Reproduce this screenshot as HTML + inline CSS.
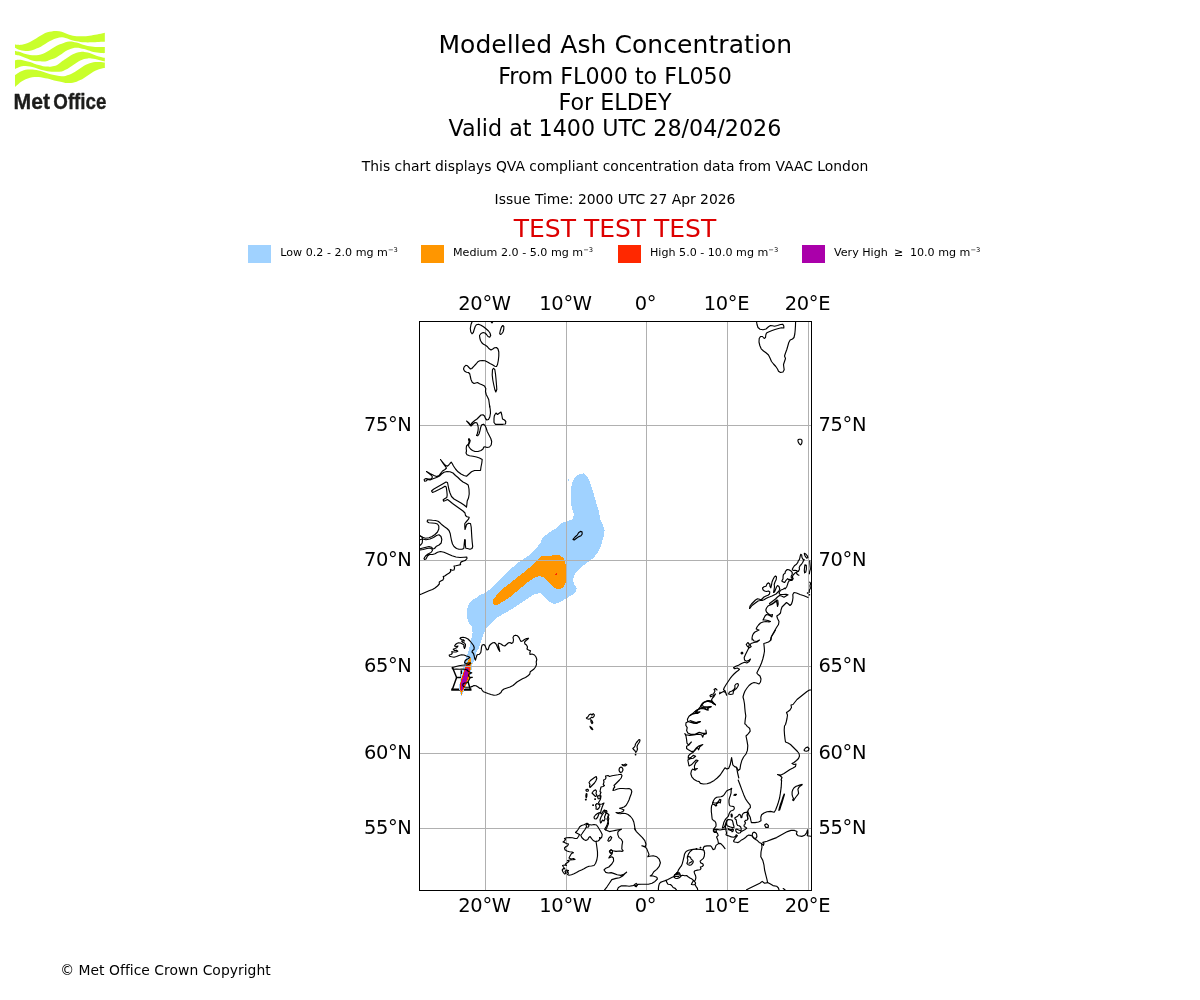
<!DOCTYPE html>
<html lang="en"><head><meta charset="utf-8"><title>Modelled Ash Concentration</title>
<style>
html,body{margin:0;padding:0;background:#fff}
body{width:1200px;height:1000px;overflow:hidden;font-family:"DejaVu Sans","Liberation Sans",sans-serif}
svg{display:block}
text{font-family:"DejaVu Sans","Liberation Sans",sans-serif;fill:#000}
.t18{font-size:25px} .t16{font-size:22.22px} .t10{font-size:13.89px} .t8{font-size:11.11px} .t14{font-size:19.44px}
.sup{font-size:6.7px}
.grid line{stroke:#b0b0b0;stroke-width:1}
.coast path{fill:none;stroke:#000;stroke-width:1.15;stroke-linejoin:round;stroke-linecap:round}
</style></head><body>
<svg width="1200" height="1000" viewBox="0 0 1200 1000">
<rect width="1200" height="1000" fill="#fff"/>
<g id="logo"><g fill="#c9ff2b"><path d="M14.98,44.44C15.52,44.51 17.05,44.82 18.20,44.87C19.36,44.93 20.68,44.93 21.93,44.75C23.17,44.57 24.30,44.28 25.65,43.82C26.99,43.35 28.54,42.68 29.99,41.96C31.44,41.23 32.89,40.36 34.33,39.48C35.78,38.60 37.23,37.56 38.67,36.68C40.12,35.81 41.57,34.93 43.02,34.20C44.46,33.48 45.91,32.81 47.36,32.34C48.81,31.88 50.15,31.62 51.70,31.41C53.25,31.21 55.00,31.05 56.67,31.10C58.33,31.15 60.26,31.36 61.72,31.72C63.19,32.08 64.20,32.78 65.44,33.27C66.68,33.77 67.93,34.29 69.17,34.70C70.41,35.11 71.65,35.50 72.89,35.75C74.13,36.01 75.37,36.15 76.61,36.25C77.85,36.35 79.09,36.37 80.33,36.37C81.57,36.37 82.81,36.32 84.05,36.25C85.30,36.18 86.54,36.07 87.78,35.94C89.02,35.81 90.26,35.63 91.50,35.44C92.74,35.26 93.98,35.05 95.22,34.82C96.46,34.60 97.70,34.34 98.94,34.08C100.18,33.82 101.68,33.51 102.67,33.27C103.65,33.04 104.47,32.76 104.84,32.65L104.84,41.65C104.47,41.67 103.65,41.72 102.67,41.77C101.68,41.82 100.18,41.90 98.94,41.96C97.70,42.02 96.46,42.09 95.22,42.14C93.98,42.20 92.74,42.23 91.50,42.27C90.26,42.31 89.02,42.39 87.78,42.39C86.54,42.39 85.30,42.34 84.05,42.27C82.81,42.20 81.57,42.11 80.33,41.96C79.09,41.80 77.85,41.60 76.61,41.34C75.37,41.08 74.13,40.77 72.89,40.41C71.65,40.05 70.41,39.58 69.17,39.17C67.93,38.75 66.68,38.24 65.44,37.93C64.20,37.62 63.19,37.25 61.72,37.31C60.26,37.36 58.33,37.76 56.67,38.24C55.00,38.71 53.25,39.46 51.70,40.16C50.15,40.86 48.81,41.61 47.36,42.45C45.91,43.30 44.46,44.35 43.02,45.25C41.57,46.15 40.12,47.16 38.67,47.85C37.23,48.54 35.78,48.94 34.33,49.40C32.89,49.87 31.44,50.38 29.99,50.64C28.54,50.90 26.99,50.98 25.65,50.95C24.30,50.92 23.17,50.72 21.93,50.46C20.68,50.20 19.36,49.84 18.20,49.40C17.05,48.97 15.52,48.11 14.98,47.85Z"/><path d="M14.98,50.64C15.52,50.80 17.05,51.21 18.20,51.57C19.36,51.94 20.68,52.40 21.93,52.81C23.17,53.23 24.30,53.69 25.65,54.05C26.99,54.42 28.54,54.78 29.99,54.99C31.44,55.19 32.89,55.30 34.33,55.30C35.78,55.30 37.23,55.24 38.67,54.99C40.12,54.73 41.57,54.31 43.02,53.74C44.46,53.18 45.91,52.40 47.36,51.57C48.81,50.75 50.15,49.76 51.70,48.78C53.25,47.80 55.00,46.51 56.67,45.68C58.33,44.85 60.26,44.39 61.72,43.82C63.19,43.25 64.20,42.65 65.44,42.27C66.68,41.89 67.93,41.63 69.17,41.52C70.41,41.42 71.65,41.47 72.89,41.65C74.13,41.82 75.37,42.22 76.61,42.58C77.85,42.94 79.09,43.41 80.33,43.82C81.57,44.23 82.81,44.70 84.05,45.06C85.30,45.42 86.54,45.73 87.78,45.99C89.02,46.25 90.26,46.46 91.50,46.61C92.74,46.77 93.98,46.84 95.22,46.92C96.46,47.00 97.70,47.08 98.94,47.11C100.18,47.14 101.68,47.11 102.67,47.11C103.65,47.11 104.47,47.11 104.84,47.11L104.84,53.12C104.47,53.12 103.65,53.18 102.67,53.12C101.68,53.07 100.18,52.95 98.94,52.81C97.70,52.68 96.46,52.55 95.22,52.32C93.98,52.09 92.74,51.78 91.50,51.45C90.26,51.12 89.02,50.73 87.78,50.33C86.54,49.94 85.30,49.45 84.05,49.09C82.81,48.73 81.57,48.37 80.33,48.16C79.09,47.95 77.85,47.85 76.61,47.85C75.37,47.85 74.13,47.90 72.89,48.16C71.65,48.42 70.41,48.89 69.17,49.40C67.93,49.92 66.68,50.49 65.44,51.26C64.20,52.04 63.19,53.07 61.72,54.05C60.26,55.04 58.33,56.28 56.67,57.16C55.00,58.04 53.25,58.71 51.70,59.33C50.15,59.95 48.81,60.52 47.36,60.88C45.91,61.24 44.46,61.42 43.02,61.50C41.57,61.58 40.12,61.48 38.67,61.37C37.23,61.27 35.78,61.17 34.33,60.88C32.89,60.59 31.44,60.10 29.99,59.64C28.54,59.17 26.99,58.60 25.65,58.09C24.30,57.57 23.17,57.00 21.93,56.54C20.68,56.07 19.36,55.61 18.20,55.30C17.05,54.99 15.52,54.78 14.98,54.67Z"/><path d="M14.98,60.26C15.52,60.18 17.05,59.81 18.20,59.76C19.36,59.71 20.68,59.76 21.93,59.95C23.17,60.13 24.30,60.52 25.65,60.88C26.99,61.24 28.54,61.65 29.99,62.12C31.44,62.58 32.89,63.17 34.33,63.67C35.78,64.17 37.23,64.68 38.67,65.10C40.12,65.51 41.57,65.90 43.02,66.15C44.46,66.40 45.91,66.53 47.36,66.59C48.81,66.64 50.15,66.69 51.70,66.46C53.25,66.23 55.00,66.05 56.67,65.22C58.33,64.39 60.26,62.53 61.72,61.50C63.19,60.46 64.20,59.84 65.44,59.02C66.68,58.19 67.93,57.31 69.17,56.54C70.41,55.76 71.65,54.99 72.89,54.36C74.13,53.74 75.37,53.20 76.61,52.81C77.85,52.43 79.09,52.22 80.33,52.07C81.57,51.91 82.81,51.81 84.05,51.88C85.30,51.96 86.54,52.19 87.78,52.50C89.02,52.81 90.26,53.28 91.50,53.74C92.74,54.21 93.98,54.83 95.22,55.30C96.46,55.76 97.70,56.17 98.94,56.54C100.18,56.90 101.68,57.26 102.67,57.47C103.65,57.67 104.47,57.72 104.84,57.78L104.84,61.50C104.47,61.40 103.65,61.14 102.67,60.88C101.68,60.62 100.18,60.26 98.94,59.95C97.70,59.64 96.46,59.26 95.22,59.02C93.98,58.78 92.74,58.62 91.50,58.52C90.26,58.42 89.02,58.31 87.78,58.40C86.54,58.48 85.30,58.66 84.05,59.02C82.81,59.38 81.57,59.95 80.33,60.57C79.09,61.19 77.85,61.96 76.61,62.74C75.37,63.51 74.13,64.39 72.89,65.22C71.65,66.05 70.41,66.93 69.17,67.70C67.93,68.48 66.68,69.25 65.44,69.87C64.20,70.49 63.19,71.11 61.72,71.42C60.26,71.73 58.33,71.68 56.67,71.73C55.00,71.79 53.25,71.81 51.70,71.73C50.15,71.66 48.81,71.56 47.36,71.30C45.91,71.04 44.46,70.58 43.02,70.18C41.57,69.79 40.12,69.38 38.67,68.94C37.23,68.51 35.78,67.99 34.33,67.58C32.89,67.16 31.44,66.73 29.99,66.46C28.54,66.19 26.99,65.99 25.65,65.97C24.30,65.94 23.17,66.10 21.93,66.34C20.68,66.58 19.36,66.96 18.20,67.39C17.05,67.83 15.52,68.68 14.98,68.94Z"/><path d="M14.98,75.15C15.52,74.78 17.05,73.65 18.20,72.98C19.36,72.30 20.68,71.63 21.93,71.11C23.17,70.60 24.30,70.15 25.65,69.87C26.99,69.59 28.54,69.47 29.99,69.44C31.44,69.41 32.89,69.51 34.33,69.69C35.78,69.86 37.23,70.15 38.67,70.49C40.12,70.83 41.57,71.29 43.02,71.73C44.46,72.18 45.91,72.72 47.36,73.16C48.81,73.61 50.15,74.02 51.70,74.40C53.25,74.78 55.00,75.15 56.67,75.46C58.33,75.77 60.26,76.19 61.72,76.26C63.19,76.34 64.20,76.13 65.44,75.89C66.68,75.65 67.93,75.32 69.17,74.84C70.41,74.35 71.65,73.65 72.89,72.98C74.13,72.30 75.37,71.58 76.61,70.80C77.85,70.03 79.09,69.15 80.33,68.32C81.57,67.50 82.81,66.56 84.05,65.84C85.30,65.12 86.54,64.50 87.78,63.98C89.02,63.46 90.26,63.05 91.50,62.74C92.74,62.43 93.98,62.24 95.22,62.12C96.46,62.00 97.70,61.97 98.94,62.00C100.18,62.02 101.68,62.14 102.67,62.24C103.65,62.35 104.47,62.55 104.84,62.62L104.84,68.01C104.47,68.06 103.65,68.12 102.67,68.32C101.68,68.53 100.18,68.84 98.94,69.25C97.70,69.67 96.46,70.18 95.22,70.80C93.98,71.42 92.74,72.20 91.50,72.98C90.26,73.75 89.02,74.63 87.78,75.46C86.54,76.28 85.30,77.16 84.05,77.94C82.81,78.71 81.57,79.49 80.33,80.11C79.09,80.73 77.85,81.23 76.61,81.66C75.37,82.09 74.13,82.48 72.89,82.71C71.65,82.95 70.41,83.06 69.17,83.09C67.93,83.12 66.68,83.09 65.44,82.90C64.20,82.71 63.19,82.28 61.72,81.97C60.26,81.66 58.33,81.40 56.67,81.04C55.00,80.68 53.25,80.21 51.70,79.80C50.15,79.39 48.81,78.92 47.36,78.56C45.91,78.20 44.46,77.89 43.02,77.63C41.57,77.37 40.12,77.11 38.67,77.01C37.23,76.90 35.78,76.90 34.33,77.01C32.89,77.11 31.44,77.27 29.99,77.63C28.54,77.99 26.99,78.56 25.65,79.18C24.30,79.80 23.17,80.52 21.93,81.35C20.68,82.18 19.36,83.21 18.20,84.14C17.05,85.07 15.52,86.47 14.98,86.93Z"/></g><text x="13.5" y="109.4" transform="translate(13.5 0) scale(1.0 1) translate(-13.5 0)" style="font-family:'Liberation Sans',sans-serif;font-weight:bold;font-size:21.2px;fill:#1d1d1b;stroke:#1d1d1b;stroke-width:0.35px;stroke-linejoin:round">Met</text><text x="53.3" y="109.4" transform="translate(53.3 0) scale(0.885 1) translate(-53.3 0)" style="font-family:'Liberation Sans',sans-serif;font-weight:bold;font-size:21.2px;fill:#1d1d1b;stroke:#1d1d1b;stroke-width:0.35px;stroke-linejoin:round">Office</text></g>
<g text-anchor="middle">
<text class="t18" x="615.3" y="53.3" letter-spacing="0.07">Modelled Ash Concentration</text>
<text class="t16" x="615" y="83.7">From FL000 to FL050</text>
<text class="t16" x="615" y="109.6">For ELDEY</text>
<text class="t16" x="615" y="136.3">Valid at 1400 UTC 28/04/2026</text>
<text class="t10" x="615" y="170.7">This chart displays QVA compliant concentration data from VAAC London</text>
<text class="t10" x="615" y="203.7">Issue Time: 2000 UTC 27 Apr 2026</text>
<text class="t18" x="615" y="236.7" style="fill:#dd0000">TEST TEST TEST</text>
</g>
<g id="legend" class="t8">
<rect x="248" y="245" width="23" height="18" fill="#a0d2ff"/>
<text x="280.3" y="256">Low 0.2 - 2.0 mg m<tspan class="sup" dy="-4">−3</tspan></text>
<rect x="421" y="245" width="23" height="18" fill="#ff9600"/>
<text x="453" y="256">Medium 2.0 - 5.0 mg m<tspan class="sup" dy="-4">−3</tspan></text>
<rect x="618" y="245" width="23" height="18" fill="#ff2800"/>
<text x="650" y="256">High 5.0 - 10.0 mg m<tspan class="sup" dy="-4">−3</tspan></text>
<rect x="802" y="245" width="23" height="18" fill="#aa00aa"/>
<text x="834" y="256">Very High<tspan dx="6.3">≥</tspan><tspan dx="6.5">10.0 mg m</tspan><tspan class="sup" dy="-4">−3</tspan></text>
</g>
<clipPath id="mapclip"><rect x="419.5" y="321.5" width="392.0" height="569.0"/></clipPath>
<g clip-path="url(#mapclip)">
<g id="volcano" fill="none" stroke="#000" stroke-width="1.45" stroke-linecap="square"><path d="M452.5,689L456.6,677.4L452.5,667.5M470.2,689L466.8,677.4L470.8,667.5M456.4,677.4H467M461.3,671V677.4"/><path d="M452.3,689.6H470.4" stroke-width="2.2"/></g>
<g id="ash" shape-rendering="crispEdges"><path fill="#a0d2ff" d="M580,474L584,473.4L587,476L589.4,481L592,488L594,495L596,502L598,508L599.4,514L600.6,520L603,525L604.6,530L604,535L602.6,540L601,546L598.6,551L595,556L592,559L588,562L584,565L579,569L575,574L573,579L574,584L576.6,588L576,592L572,595L567,598L562,601L557,603.4L554,604L550,602L546,598.6L543,595L540,593L535,594L530,597L524,601L518,605L512,609L505,613L498,617L492,622L487,627L484,633L482,639L480,645L478,651L477,650L477.2,650L476.2,653.5L475,657.5L473.5,661.5L472.2,665L471.8,669L471,673L470.2,677L469,681L467,684L465,687L463.8,691L462.5,694L461.5,695.8L460.5,693.5L459.5,690L459.2,686L460,681L461,676L462.2,671L463.2,667L464.2,663.5L465.2,660L466.5,656.5L467.8,653L468.8,650L468.8,650L470,645L471.4,639L472.6,633L472,627L469,623L467,618L466.6,612L468,606L471,601L476,598L480,595L485,593L489,590L493,586L498,581L503,576L508,571L513,567L519,562L525,558L530,554.6L534,550L538,546L541,542L542,538L546,535L550,532L555,529L559,525L564,522L569,520.6L573,519L574,514L572,508L570.6,502L570.6,495L571,488L572.6,482L575,477.4L577.4,475Z"/>
<path fill="#ff9600" d="M542,556L549,556L555,555L560,555.4L563.4,558L565.4,563L566,569L566,577L565.4,584L563,587.4L559,589.4L555,588L551,585L547,581L543,577L539,576L534,578L528,582L522,587L516,592L510,597L504,601L498,604.6L495,605.4L492.6,603L493,600L496,596L500,591.4L505,587L511,582.6L517,577.4L523,573L529,568L534,563L538,559Z"/>
<path fill="#a0d2ff" d="M568.2,479.4L569,479.4L569,480.6L568.2,480.6Z"/>
<path fill="#ff9600" d="M470,658.2L468.5,660L467,662.5L466,665L465,667.5L464,671L462.5,675L461,680L460,685L459.8,690L460.8,693L461.5,694.8L462.2,693L463.5,690L465,686.5L467,683L468.5,680L469.8,676L470.2,672L470.8,668L471,665L471.8,663.5L471,661.5L470.9,658.5Z"/>
<path fill="#ff2800" d="M466,665.2L465,667.5L464.2,671L462.8,675L461.2,680L460.2,685L460,689.5L463,690L464.5,686.5L466.5,682.5L468.2,679L469,675L469.8,671L470,667.5L469.5,665.2Z"/>
<path fill="#a800a8" d="M466.5,668L465,670L464.2,672.5L463.5,676L462,680L461,684L460.5,688L461.5,690.5L462.8,689.5L463.8,686L465.5,683L467,680L467.8,676L468.2,672.5L468.5,669.5L467.8,668Z"/>
<path fill="#ff2800" d="M555,575L557,572L557.4,575Z"/></g>
<g class="grid"><line x1="485.5" y1="321.5" x2="485.5" y2="890.5"/><line x1="566.5" y1="321.5" x2="566.5" y2="890.5"/><line x1="646.5" y1="321.5" x2="646.5" y2="890.5"/><line x1="727.5" y1="321.5" x2="727.5" y2="890.5"/><line x1="808.5" y1="321.5" x2="808.5" y2="890.5"/><line x1="419.5" y1="828.5" x2="811.5" y2="828.5"/><line x1="419.5" y1="753.5" x2="811.5" y2="753.5"/><line x1="419.5" y1="666.5" x2="811.5" y2="666.5"/><line x1="419.5" y1="560.5" x2="811.5" y2="560.5"/><line x1="419.5" y1="425.5" x2="811.5" y2="425.5"/></g>
<g class="coast"><path d="M472.2,321.5L471,324.5L470.3,328.5L470.8,332L472,333.8L473.3,332.5L474.2,329.5L475.2,326.5L476.5,324.7L478.5,324.3L481,325.2L483.5,326.8L486,328.8L488.5,331L490,333L490.7,335.5L489.7,337.2L488,336.5L486.5,334.5L485,333L483.2,332.5L481,333.5L479.5,335.5L479.8,338L480.5,340.5L481.8,342.8L483.5,344.3L485.5,345.3L487.5,346.8L489.2,348.8L491,350L492.8,349L494.5,347.8L496.5,347.5L498,349L498.8,352L498.8,356L498.3,360.5L497.5,364.5L496.5,366.5L494.8,366.2L492.5,364.8L490,363.5L487.5,362L485,360.8L482.5,360.5L479.8,360.8L477.8,361.8L476,364L474,366.2L471.8,368.5L470.5,369L469,367.5L467.5,365.8L465.8,365.3L464.2,366.8L463.5,369L464.5,371L466.5,372.2L468.5,372.5L469.8,374L470.3,376.5L471,379.5L472.2,382.2L474,383.5L475.8,383L477.5,382.5L479.5,383.8L482,384.8L484.5,386L485.8,388.5L485.5,391.5L486.2,394.5L487.5,397L488.7,399.5L489.2,403L489.7,407"/>
<path d="M499.7,333.5L500.3,330.5L501.5,327L502.8,325.5L503.8,326.5L503.8,329L503,332L501.5,334L500.3,334.5Z"/>
<path d="M492.5,369.5L493.5,368.3L494.8,369.5L495.5,374L496,379L496.5,385L496.8,389.5L495.8,392L494.8,389.5L493.8,385L492.8,380L492.2,375Z"/>
<path d="M491,321.6L492,323L492.8,321.8"/>
<path d="M489.5,405L490.2,409L490.5,413L489.8,417L488.5,419.5L486.8,420L485.5,418.5L484.5,416L483,414.8L481,415L479,417L477,419L474.8,420.5L473,422L471.5,423.5L470.5,425L469,423L466.5,421L469.5,424.5L471,426L473,424L475,422.5L476.8,422.8L477.8,425L478.3,428L478,431L477.2,434L476.5,435.5L477.8,435.8L479,434L480,430.5L480.8,427L481.8,424.8L483.5,424.2L485,425.5L486.2,428L487.2,431.5L489,435L490.8,438.5L491.7,441.5L491.2,445L489.5,447L487,447.5L485,446.8L483.8,447L483,449L481,450.5L478,451.5L475,451.5L472.5,450.5L470.5,449L469,447L468.5,445L469.5,443L470.2,440.5L469,438.5L468.5,439.5L469.2,441.5L468.5,444L466.5,446L466.2,448.5L466.5,451L466,453L467,454.8L469.5,455.8L473,456.2L476.5,457L479.5,458L482.2,459.5L481.8,463L481,467L480.5,470.5L478,470.5L474.5,470.5L471.5,471.8L469,474L466.5,476.2L464,475.5L461,474L458,471.8L455.5,469L453.5,466L452.2,463.5L451.2,462.2L450,463.5L448.8,465L447.2,466.2L445,465L440.5,459.5L443.5,464L446.5,468L445,469.5L442.5,471L440.5,473.5L439,475.5L436.5,476.5L434,475.5L432,474.5L430,473.5L426.5,471.5L431,475L432.5,477L431,479L428.5,479L426,478.5L424.2,479.5L424.5,481.2L426,481L427.5,479.5L430,480L433,478.8L436.5,477.5L439.5,476L441.5,474L444,472.2L447,471.5L450,471.8L453,473L455.5,475.5L458,477.5L460.5,480L463,482L466,483.5L468.2,485L469,489L469.2,494L468.5,498L467.2,501L466.8,505L466.5,507"/>
<path d="M495,414.5L496,413L497.5,414.5L499.5,413L501,412L501.8,415L502.5,419L504.5,420L505.8,421.5L505.5,424L503,424.3L499,424.3L495.5,424.3L494,422.5L494,418.5L494.3,416Z"/>
<path d="M466.5,507L464,505L461,503L457.5,501L454,499L451.5,496.5L450,493L448.8,489L448,485L447.5,482.5L446,482L443.5,483.5L440,485.5L436.5,487.5L433.5,489.2L431.5,491L432.5,492.5L435,491.5L438.5,489.8L442,488L445,486.2L446.2,487L446.8,491L447.2,495L446.8,497.5L445,498.5L443.2,499.8L443.5,501.2L445.5,500.5L447.5,499.5L449.5,501L452.5,503.5L456,506L459.5,508.5L463,511L465,513L465.5,515.5L467,516.8L469.2,517.2L468.5,519.2L466.5,521.5L464.8,523.5L464.8,526.5L465,529.5L465.8,527L466.5,524.5L468.5,523.2L470.5,523.5L471.2,527L471.5,532L471.8,537L472.2,542L472.7,546.5L472,548.5L470,549.2L467.5,548.5L465.8,548.2L465.3,545L465.3,540L464.7,539.5L464.2,544L463.8,548.5L462,549.2L459,549.2L456.5,548.5L454,546.5L452.5,544L451.5,540.5L450.8,537L450.2,533.5L449,530.5L447,528.5L444.5,526.8L442,524.8L440,522.8L438,521.2L435.5,520.5L432.5,520.3L429.5,520L427.5,520L427.2,521.8L429,522.8L432,523L435,523.2L437.5,524L438.8,526L438.8,529L437.5,532L435,534.5L432,536.5L429,537.8L425.5,538.2L422.5,537.2L420,536L419,535.5"/>
<path d="M419,540L422.5,539L426,539.8L430,539L433.5,537.5L436.5,535.5L439,534.8L441,536.5L441.8,539.5L441.2,543L439,545L436.5,546.2L434.5,548.5L433,549L431.5,547.2L429,546.5L425,547.5L421,548.5L419,549"/>
<path d="M419,550.2L423,549.5L427,548.5L430,548L432,549L432.5,550.5L431,552.5L428,554L425.5,556L424,558.5L424.5,559.5L426,559L427.5,556L429.5,554.5L432.5,554.5L435,553.8L437.5,552.2L440.5,551.5L444,552.2L448,554L452,555.8L456,557L460,557.5L464,557.2L466.8,557L467,558.5L465.4,560.4L463.6,561L461.2,561.9L460.3,563.4L460.6,564.6L458.2,565.2L455.8,565.8L454,566.1L454.6,567.9L454,570L452.2,570.3L450.4,569.4L450.7,571.5L449.2,573L446.8,574.5L444.7,576L443.2,576.6L443.8,578.1L442.9,579.9L440.8,581.1L439.3,582L439.3,584L437.5,586L435,588L432.5,589.5L429,590.8L425,592.5L421.5,594L419,594.9"/>
<path d="M474,685.5L476,685.8L478,687L480,688.5L481.2,688.2L482,690L483.5,691.8L485.5,692.5L488,693.5L491,694.5L494,695.2L496.5,695L499,694L501,692.5L502,690.5L504,689L507,688L510,687L513,685.5L515,683.8L517,682L519.5,680.5L522.5,678.8L525.5,677.5L528,675.8L529.8,674L530.2,671.8L532,670.5L534,669L535.5,667L536.5,664.5L536.2,662L536.8,659.5L536,657L534.5,655L532,654L530,654.5L529.8,652.5L530.5,650.8L528.5,650L527,649L527.5,647L526.5,645L525,644L524.5,642.2L526,640.5L528,639L528.5,638.2L526.5,638.5L524.5,639.5L522.5,641L521,641.5L520,639.8L519,637.5L517.5,635.8L515.5,635.2L514,635.8L513,637.5L513.5,640L513,642.5L511.5,643.5L510,642.5L508.5,642.8L506.5,644.5L504.8,646L503,645.5L501,644L499,643.2L498,644.5L498.8,647L499.5,650L499.8,651.5L498.5,649.5L497.2,646.5L496,644L494.5,642.5L492.8,642.8L491,644L489.5,645.5L488.8,647.5L488.2,649.5L487,650L486,648L485,645.5L483.8,644.5L482.2,645L481.5,647.2L481.2,650L480.8,652.5L479.5,654.2L478,654.5L477,655L476,658L475.5,660.2L474.8,659L474.2,656L473.5,653.5L472,652L472.5,650.5L474,649.5L474.2,647.5L473.5,645.5L472,643.5L470,641L468,639L465.5,637.7L463,637.2L461,637.5L460,638.5L461.5,639.5L463.5,639.8L464.5,641L463,640.8L461.5,641L462.5,642.2L464.5,643L465.5,644.5L465.3,646.5L464.5,648.5L463.8,646.5L464,645L462.5,644L460.5,643L458.5,642.8L456.8,643.5L455.5,644.5L454.5,646L456,646.5L458,646L457,647.5L455,648.5L453.2,649.2L454.5,650.5L456.5,650.2L457.8,651.2L456,652L453.5,652L451.8,651.5L452.2,653.5L451,654.5L449.2,655L449.5,656.2L451.5,656.8L454,657.2L456.5,656.5L459,655.5L461.5,654.8L464,655L466.5,656L468.8,656.8L469.8,657.5L468.5,658.5L466.5,659.5L465,661L464.5,662.8L466,663.5L468.5,663L470.5,662.8L470,664L467.5,664.8L465,665L462,665.2L459,665.8L456,666.5L453.5,667.2L452.5,667.2L452.2,668.2L453.5,669.2L456.5,669L459.5,669.2L462,669L465,669.2L467,670L468.5,671.5L470,672.2L471.8,672.8L470.5,673.5L469,673.8L468.5,675.5L469.5,677.2L472.5,677.2L470,678L469,680L468,682L466.5,683L464.5,683L463,684L462.8,685.5L463.8,686.8L466,687.2L468.5,687.2L471,686.9L473,686.1Z"/>
<path d="M573,539.4L575,537L577.4,534.8L578.6,532.8L580.4,531.4L582,531.8L582.2,534L581,535.8L579,536.6L576.8,538L574.2,540Z"/>
<path d="M756.5,321.5L757,324.5L758,327.5L760,329.2L763,329.8L766,329L768.5,326.8L770.5,325.5L772.5,325.8L774.5,326.2L777.5,325.5L780.5,324.5L782.8,324.2L783.8,326L783.8,328L781.5,327.8L778.5,328.5L775,329.5L771.5,330.8L768.5,332L766.5,333L765.8,335L765.5,337.5L764.2,338.5L762.5,336.5L760.5,336.5L759.2,338.5L759,342L759.8,345.5L761.2,348.8L763.5,351L766,352.8L768.5,355L770,358L771.5,361.5L773.5,364L775.8,366.5L777.5,369L778.5,371.2L780.5,372.5L783,372L784.2,369.8L783.8,367L783.5,364.5L784.5,361.5L785.5,358.5L784.5,356L785.5,353L786.8,349.5L787.8,346L788.8,342.5L790.2,340L792.5,339L794,337.5L794.8,334L795.2,330L795.5,325L795.6,321.5"/>
<path d="M798.2,439.6L799.4,439.2L801,439.3L801.9,440.2L802,441.8L801.6,443.6L800.6,444.8L799.4,444L798.4,442.4L797.9,440.8Z"/>
<path d="M749.5,608.5L750,606L751.5,604L753.5,602L755.5,600L757.5,598.8L759.5,599.2L761,600L762.5,598.5L764,597L766,596L768,595.2L769.5,594L769.8,592L768.5,591L766.5,591.5L764.5,591L763,589.8L762.5,588L764,586.8L766,586.2L767,584L768.5,582.8L769.8,584L770,586.5L770.8,587.8L771.5,585L772,582L773,579.5L774.2,577.2L775.5,576L776.5,577L776.2,579.5L775,582L774.2,584.5L774.5,587L774,590L773.5,592.5L774.5,592L775.5,589.5L776.5,587L777.5,585.5L779,586.5L779.8,589L779,591L777.5,592.5L776,594L774,595L772,596L770,596.8L768,597.5L766,598.5L764,599.8L762,600.5L760,600.5L758,601L756,602.5L754,604L752,605.5L750.5,607.5Z"/>
<path d="M781.8,581L783,578.9L783.1,576.2L783.5,574.4L785.1,573.2L785.4,571.4L787.2,569.5L789.3,569.9L791.1,571.1L792.3,572.6L792.1,574.4L791.2,576.2L791.3,577.7L792.3,578.7L791.4,579.8L789.9,579.3L788.7,579.8L787.7,578.6L786,580.3L784.7,582.5L783,581.9Z"/>
<path d="M792.3,569.3L793.2,567.5L794.7,565.4L796.5,564.2L797.7,562.7L798.3,560.9L799.5,559.4L800.1,556.7L800.7,554.3L801.7,554.9L801.9,557.3L802.8,559.1L804.3,559.7L803.4,560.9L802.5,562.7L801.3,564.5L800.1,565.7L799.2,567.5L799.5,569.3L798.6,570.8L797.7,571.7L796.5,570.5L795,570.2L793.7,570.5L792.6,569.9Z"/>
<path d="M796.2,572.3L796.8,573.8L797.9,574.7L798.9,575.3"/>
<path d="M804.3,553.4L805.8,554L807.3,555.8L807.9,557.6L806.7,558.2L805.5,556.7L804.6,554.9Z"/>
<path d="M804.9,564.8L806.3,565.4L806.4,569L805.8,572L804.6,572.9L804.3,570.2L804.6,567.2Z"/>
<path d="M809.7,560.9L810,564.8L810.4,569L809.7,571.4L809.4,573.8"/>
<path d="M809.7,582.2L810.6,583.4L810,585.8L810.4,588.2L809.4,590L809.2,592.4"/>
<path d="M807.4,592.8L807.8,592.8L807.8,593.2L807.4,593.2Z"/>
<path d="M809.2,594.6L809.6,594.6L809.6,595L809.2,595Z"/>
<path d="M798.6,570.9L796.8,572.1L794.7,573.3L793.1,575L792.3,577.1L793.2,578.6L792,580.4L790.2,580.4L789,581L788.1,582.5L787.5,584.6L786.6,587L785.1,588.8L785,588L783,589.2L781,590L779.8,591.5L779,593L780,594.5L783,594.5L786,594.2L788,594.8L786,596L784,597.2L781.5,596L779.5,595.5L777.5,597L775.5,599L773.5,600.5L771.5,602L769.5,603.5L770.5,605L772.5,604L774.5,602.5L776.5,601L777,603.5L777.5,606.5L778.2,604L777.8,600.5L777,600L774,602.5L771,604.5L768,606L766.5,608L765.8,610L766.5,612L768,613.5L769.5,614.5L771,615L772.5,614.5L772,617L770.5,616L768.5,615L766.5,614.5L765,616L764,618L763,620L765,620L768,620.5L770.5,621.5L769,622L766,621.5L763,622L760.5,623L758.5,625L757,627L756.2,629L757.5,629.5L759,630L757,631L755,632L753.5,633.5L752.5,635.5L752,638L752.2,640"/>
<path d="M808,597.5L807.5,597.2L804,595.8L800,594.5L796.5,593L794,592.5L792.8,594.5L793,597.5L792.5,601L791.5,604L790,605.5L788.5,604L786.5,602.5L784.5,604.5L782,607L781,610L780.5,613L779,614.5L776.8,616L777.5,618.5L779,621.5L778.5,624.5L776.5,627.5L774.5,631L772.5,634.5L771,637.5L770.5,640"/>
<path d="M752.5,639L754,641L756.5,641.5L759.5,640L757,642L754,642.5L751,643.5L750,645L751.2,646.5L749.5,647.8L747.5,646.5L746.2,644.5L747.8,642.5L749.2,644L748.5,648.5L747,651.5L745.5,654.5L744.2,657.5L744.5,660L746.5,661.2L749,660.2L750.5,659L749.2,661.5L746.8,663L744.5,662.2L741.5,663.5L738.5,665.2L735.8,666.2L733.5,667.8L734.8,668.8L737.2,668L739.5,669.3L738.2,670.5L736.2,672L734,674L732,676.2L730,678.7L728,681.7L726,684.7L724.2,687.7L723.5,689.7L725,690.7L726,693.2L726.6,695.2L725.6,692.6L723.5,691.5L721.5,692.5L719.5,693.8L720,692.2"/>
<path d="M728.5,694L729.5,692L732,691L734,689.5L735,687.5L734.8,685.5L736,684L737.8,683.5L738.5,685L737.5,687L736.5,688.5L735,689.5L733.5,691.2L733,694L730.5,694.5Z"/>
<path d="M741.5,652.2L742.5,652.2L742.8,653.5L741.8,654L741,653.2Z"/>
<path d="M717,690L715.5,688.5L714,689.5L715,691L713.5,694L711.5,694.5L710,695.5L710.5,696.8L712.5,696L714.5,695L715.5,694L714,696.5L712.5,698L711.5,700L713.5,703L715.5,704.8L713,703.5L711,701L708.5,700.5L706,701.2L703.5,702.5L701.5,704.5L700.5,706.5L702.5,707.5L705.5,707.2L708.5,706.8L711,706.8L708.5,708L707,710L704.5,709L702,708.5L699.5,709L697,710L695,711.5L696,713L698.5,712.5L700,711.8L697.5,713.5L694.5,713.2L692,714L690,715.5"/>
<path d="M690,720.5L693,721.5L696,722.5L700,721.5L697,723L694,723.2L691,722"/>
<path d="M775.5,630L773.5,633.5L771.5,636.5L771,640L768.5,642L765.5,643L763.8,643.5L764.2,647L764.5,651L763.8,655L762.8,659L761.5,663L760,666.5L758.5,669.5L756.8,673L758,674.5L760,676L761,679L760.5,682L759,684L756.5,683L754,682.5L751.5,683.5L749,685.5L747,688L745,691L743.8,694L743,697L743.8,700L744.5,704L744.8,708L745.2,712L745.8,716L745.2,720L744.8,724L745.4,724L747.2,726.4L749.6,728.2L750.2,731.2L748.4,733.6L746,736L747,740.8L747.8,745.6L747.4,750.4L746,754L743.6,757L741.8,760.6L740.6,764.8L740,769L738.2,770.6L736.6,767.4"/>
<path d="M690,715.5L692,714.2L695,711.4L698,709.6L700.5,706.5L703.5,702.5L708.4,700.5L712.4,701.8L715.4,704.8L711.8,702.4L707.6,701.2L704,702.4L701.6,705.4L704,706.6L707.6,707.2L711.2,706.6L707.6,707.8L708.2,710.2L705.2,708.4L701.6,707.8L698,709.6L696.2,712.6L699.2,712L695.6,713.4L692,714.2L689,716.2L687.4,719.2L687.8,721.4L690.8,722.2L695,723L700.4,721.6L696.2,723.4L692,722.8L688.4,721.6L686,722.8L685.8,725.2L687.2,727.6L686.6,730.6L687.8,733L690.8,734.2L695,734.2L699.2,732.4L702.8,733.4L706.4,733L705.8,730L706.4,733.6L703.4,734.8L702.8,737.2L701.6,734.8L698,734.2L693.8,735L689.6,735.4L686,734.8L684.8,733.6L686,736L686.6,739.6L687,743.2L688.4,745L691.4,742L689,745L686.6,746.2L686.6,748.6L688.4,749.8L691.4,751.6L693.8,751L696.2,748L699.2,745.8L702.8,744.6L699.8,746.8L698.6,749.8L697.4,747.4L695,750.4L692.6,752.8L690.2,754L688.4,755.8L688.2,758.2L690.8,757.6L693.2,755.4L695.6,756.4L693.2,758.2L690.2,758.8L687.8,760L688.4,763L689,766L691.4,764.8L693.8,762.4L696.2,760L698,760.6L695.6,763L694.4,766L694.6,769L697.4,768.6L695,770.2L692.6,769L691.4,770.8L690.8,773.8L691.8,776.8L693.8,779.2L696.8,781L699.2,781.6L700.4,783.4L703.4,784L707,783.8L710.6,782.6L714.2,780.4L717.2,778L720.2,775L722.6,771.4L725,767.8L726.8,769L728.6,768.4L730.2,764.8L731,760.6L731.6,757.6L732.2,761.2L732.8,764.8L734.6,766.6L736.6,767.4L737.4,772L738.8,778"/>
<path d="M811.5,690L809.5,690L807,691.5L804.5,693.5L802,695.5L799.5,697.5L797,699.5L795,702L793,704.5L791,705L791.5,707.5L790,710L788,711.5L786.5,712.5L787.5,715L787,718.5L786.2,722L785.5,724.5L784.5,726L784.2,730L784.5,734.5L785,739L785.5,742L788,743L790.5,744.5L793,747L795.5,749.5L797.5,751.5L799,753.5L799.5,756L798.5,758.5L796.5,760.5L794,762.5L792,763.5L794,764.5L796,764L795.5,766.5L793,768L790,769.5L787,771.5L784,773.5L781,775L777.5,774.5L780.5,776L782,777.5L781,780"/>
<path d="M804,750L805.5,748L807.5,747L809,748.5L808.5,750.5L806.5,751.2L805,751Z"/>
<path d="M738.2,780L740,784.8L741.8,789.6L743.6,794.4L745.4,798.6L747.8,802.2L750.2,805.2L750.4,807.6L748.4,809.4L747.8,811.8L749,814.8L750.2,817.2L750.8,820.2L751.4,822.6L755,822.6L758.6,822L761,820.8L760.8,817.2L761.6,814.8L764,813L767,811.8L770.6,811.4L774.2,812.2L775.6,810L777.2,805.8L778.4,802.2L779.6,798L780.4,793.2L781.2,787.2L781.6,780"/>
<path d="M658.4,889.9L658.4,888.4L658.7,886L659.3,883.9L660.5,882.4L662.6,881.5L665.3,880.6L667.4,879.7L669.8,878.5L672.2,877.3L674,876.4L674.6,874.9L676.1,873.7L677.3,872.5L677.9,871.6L678.5,869.8L680,867.7L681.5,865.6L682.4,863.2L683,860.8L683.6,858.4L684.2,856L684.5,854.2L685.4,852.4L686.6,851.2L688.4,850.3L690.8,849.7L693.2,849.4L695.6,849.1L698,849.3L700.4,849.4L702.2,849.7L703.1,850L703.4,847.9L704.3,846.4L707,845.9L710.6,845.8L711.8,847.2L713,849.6L714.8,849L716,845.4L718.4,843.6L720.8,843.6L723.2,846.2L725,848.6L723.2,846.2L720.8,843.6L718.4,843L717.8,840L716.6,837L717,836.6L718.2,835.4L717.6,833.6L716.4,832.1L714.6,832.4L713.4,831.2L713.4,829.7L714.6,827.9L715.8,826.7L716.1,824.9L715.8,822.8L714.9,821.3L713.4,820.4L712.2,819.2L711.9,816.8L711.6,813.8L711.3,811.4L711.3,808.4L711.6,805.7L712.5,804.2L712.8,802.4L713.7,800.3L714.9,798.5L716.7,797.3L718.8,797L720.9,796.7L722.7,796.1L724.2,794.6L725.4,792.8L726.6,791L728.4,790.1L730.2,789.2L731.7,788.3L731.1,790.4L731.1,792.8L730.5,795.2L729.6,797.6L729,800L729,802.4L729.3,804.8L730.2,806L732,806.3L733.8,806.6L734.4,808.1L733.8,809.6L732.6,810.5L731.1,810.8L730.2,811.7L729.3,813.2L728.7,815L728.4,816.2L727.5,817.1L726,818.6L724.8,820.4L723.9,822.2L723.3,824.6L722.7,826.7L722.4,827.9L724.2,827.3L725.1,825.2L725.7,823.4L726.6,821.6L727.2,820.1L726.3,821.9L726,824L725.4,826.4L725.7,828.2L726,829.1L726,830.6L726.6,833L726,834.8L727.2,835.4L729,836L731.4,836.9L733.8,837.2L735.6,836.3L736.2,834.8L737.4,835.7L736.2,837.2L735.3,838.1L734.4,839.6L733.5,841.1L734.4,842L736.2,842.3L738,842.6L739.8,841.4L741.6,839.9L743.4,839L745.2,837.8L747,836L748.8,835.1L750.6,835.4L752.1,836L753.8,838.2L755.6,839.4L757.4,840.6L759.2,842.4L761.6,843.6L763.4,845.4L764,843.6L762.8,842.4L767,841.2L771.8,839.4L776.6,837.6L780.2,835.4L783.8,833.4L787.4,831.6L791,830.4L794.6,830.4L797,831.6L796.4,834L798.2,835.8L801.8,836.4L804.8,835.2L806.6,832.8L807.6,829.8L807.8,832.8L807.2,835.8L810.8,836.2"/>
<path d="M764.6,825L766.4,823.8L768.4,825.4L768.2,827.4L765.8,827.4Z"/>
<path d="M713.6,829.2L716,829.4L716.4,831.6L714.2,832.2Z"/>
<path d="M761.6,843.6L762,847.2L761,852L760.8,856.8L762.8,860.4L764,865.2L764.6,870L765.8,874.8L767,879.6L767.6,882.6L764.6,883.2L762.2,881.4L759.8,883.2L756.2,885L752.6,886.8L749,888.6L746.6,889.8"/>
<path d="M767.6,882.6L770,883.8L773,885.6L776.6,886.2L778.4,888L779,889.8"/>
<path d="M783.2,888.6L785,889.8"/>
<path d="M635.2,830L634.5,825.5L633.8,822L632.5,819L630.5,816.5L628,814.5L625.5,813.5L623,813.2L620.5,813.8L618,813.5L616,812.5L618.5,812.8L621,812.2L623,811.5L624,810L622,809L619.5,808.2L621.5,807.8L624,807L626,805.5L627.5,803L629,800L630,797L631.2,794L631.8,791.5L631,789.5L629,788.5L626,788.8L623,788.5L620,788.5L617.5,789L615,790L613,790.5L613.5,788.5L614.8,787L614,785.5L615.5,784L617.5,782L619.5,780L621.2,778L622,775.5L621,774.2L618,774.8L615,775.2L612,775.8L609.5,776.5L608,775.5L605.5,776L606,778L605,779.5L603.5,780L604,782L603.2,784.5L604.5,785.5L603,786.5L601,787L600.5,789L600,791.5L601,792.5L600,794.5L601,796L600.5,799L599.5,801L598.5,802.5L599.5,804.5L602,804L604,803L603,805L602,807.5L601.2,810L600.5,813L601.5,814L603,811.5L604.5,810L606,811L605.5,813L607.5,813.5L609,815L608,817L607,819L608,821L608.5,823.5L607.5,826L606.5,828.5L605.5,830"/>
<path d="M589,782.5L590.5,780.5L592.5,779L594.5,777.5L596.2,776.5L596.8,778.5L595.8,781L594.5,783L593,784.5L591.5,786L590,787.5L589.5,786L590,784.5Z"/>
<path d="M585.8,790L587.2,789.2L588.5,790L588,791.2L586.5,791.2Z"/>
<path d="M586.2,793.5L587,794L586.8,796.5L586.2,798L585.8,796Z"/>
<path d="M585.5,799.3L586.3,799.5L586.2,800L585.4,799.9Z"/>
<path d="M592,793L593.5,791L595.5,789.8L596.5,791L596,793.5L597,795.5L595.5,796.5L594,795L593,794Z"/>
<path d="M597.5,796.5L599,795.5L600.5,796.5L600,798.5L598.2,798.8Z"/>
<path d="M594.8,798.8L595.4,798.8L595.4,799.4L594.8,799.4Z"/>
<path d="M592.8,804.8L593.4,804.8L593.4,805.4L592.8,805.4Z"/>
<path d="M595.5,805L597,803.5L599,804.5L600,806L599,808L597.5,809.5L596,809L596.2,807Z"/>
<path d="M594,817L595.5,815L597.5,813.5L599.5,812.5L598.5,815L597.5,817.5L596,819L594.5,818.8Z"/>
<path d="M600,820L601,817L602.5,814.5L604,812.5L605,811L606.5,810.5L607,812L605.5,814.5L604.5,817L605,819L604,821L602.5,820L601.5,822L600.5,823Z"/>
<path d="M619,770L619.5,768L621,767L622.5,768L623,770L622,772L620.5,772.5L619.5,771.5Z"/>
<path d="M622,764.5L624,765L625.5,764L626.8,764.8L625,766L623.2,765.8Z"/>
<path d="M639,739.5L640,740L639.5,742L638.5,743.5L637.5,745L637,747L637.5,749L636.8,751L635.8,752.5L634.8,750.5L633.5,749.5L632.8,748.5L634,747.5L635,746L635.5,744L636.5,742.5L637.8,741Z"/>
<path d="M635.3,754.3L635.8,754.3L635.8,754.8L635.3,754.8Z"/>
<path d="M586.4,718L588,716.8L589.2,714.8L590.8,714L592,715.2L593.2,713.6L594.4,714.8L594,716.4L592.8,717.6L591.6,717.2L590.4,718.4L588.8,719.2L587.2,718.8Z"/>
<path d="M590.8,719.6L592,720.8L592.8,722.8L592,723.6L591,722Z"/>
<path d="M590,726.4L591.6,727.6L592.8,729.6L591.6,729.2L590.4,727.6Z"/>
<path d="M634.6,828.6L636.4,831.6L639.4,834.6L642.4,837.6L644.8,840.6L646,844.2L645.4,846.6L641.8,845.8L644.2,846.6L646.6,848.4L647.8,851.4L649,854.4L647.8,856.8L649.6,856.2L653.2,855.8L656.8,856.8L659.2,859.2L660.4,862.8L659.2,866.4L656.8,869.4L653.8,871.8L652,874.8L650.2,876L653.2,876L656.8,877.2L657.4,879L655,881.4L652,883.2L648.4,884.2L644.8,884.2L641.2,884.2L637.6,884.4L636.4,886.2L634.6,885L632.8,885.6L629.2,886.2L625.6,885.8L621.4,885.8L618.4,887.4L617.4,889.8"/>
<path d="M604.6,889.8L607,886.8L609.4,883.2L611.8,879.6L616,878.4L619.6,877.8L622.6,876L625,873.6L626.6,872.2L623.8,874.2L620.8,875.4L617.2,874.8L614.2,873.6L611.2,872.6L608.2,873L605.8,872.4L604,870L605.8,868.2L608.8,867L611.8,864L613.6,861L613.4,858L611.8,856.8L608.8,858L609.8,856.2L611.8,854.4L612.4,852.6L610.6,853.2L609.4,851.4L610.6,850L613,850.8L616,851.4L619.6,851L622,851.4L623.2,850.8L621.8,849L622,845.4L622.6,841.8L621.4,839.4L619,837.6L617.8,834.6L617.8,832.2L619.6,830.2L621.4,829.2L618.4,829.8L615.4,830.4L612.4,831L609.4,831.6L607,830.4L604.6,829.2L605.8,827.4L607,825L608.2,821.4L608.8,818.4L607.8,816"/>
<path d="M607.8,840.6L608.8,838.2L610.6,836.4L611.8,837.6L610.6,840L608.8,841.4Z"/>
<path d="M609.8,850.8L611.2,849.6L612.6,851L612.2,853L610.2,853Z"/>
<path d="M634.6,884.4L636.2,883.4L637.4,885L636.2,886.8L635,886.2Z"/>
<path d="M587,823.2L589,824.5L591.5,825L594,824.5L596.5,825L598,827L599.5,829.5L601,832L602.2,834.5L601.8,837L600.5,838.5L599.5,837.5L599.8,839.5L598,841L596,841.5L596.5,844.5L597,848L597.5,852L597.5,856L596.8,860L595.5,863.5L594,865.5L591.5,866L589,866.2L586.5,867.2L584,868.8L581.5,870L579,871L576.5,872.5L574,873.8L571.5,874.8L569,875.2L567.5,874.5L568.5,873L567,872L568.5,870.5L566.5,870L565,871.5L566,873.5L564.5,874L563,872L562.2,870L563.5,868.5L565,869L563.5,867L562.5,865.5L564.5,865L566.5,865.5L565.5,864L567.5,862.5L569,861.5L567.5,860.5L570,860L573,859.8L575,859.5L573.5,858.5L571,859L569,858L570,856L571.5,853.5L573.5,852.8L572,852L569.5,851.8L567,851L565,849.8L564.5,848L566,846.5L567.5,846L568.5,844L566.5,843.5L564.5,842.5L563,842L564.5,841L565.5,839.5L564.5,838.5L566.5,837.8L569.5,837.5L572.5,837.8L575,838.5L577,838.5L578.5,836.5L579.5,834.5L577.5,833.5L575.5,832.5L577,831L578.5,829L579.5,827L581.5,825.5L584,824.8L585.5,824Z"/>
<path d="M586,825L587.5,824L589,825.5L588.5,827L586.8,827.2Z"/>
<path d="M586.2,827.2L585,829.5L583.5,831.5L582.2,833.5L580.8,835.2L581.8,837.5L583.8,839.5L585.8,840.4L587.8,839.5L588.8,837.5L590.2,836.6L591.6,838.6L593.2,840.5L595.2,841.5L596.5,841.2"/>
<path d="M420.1,535.8L422.2,537L422.5,540L422.2,543L420.7,544.8L419.8,545.4"/>
<path d="M692,850L690.2,851.5L688.7,853.6L687.8,855.7L688.4,856.6L689.9,856.9L690.8,858.1L691.4,859.6L692.7,860.2L693.3,861.7L692.7,863.2L691.5,864.7L689.9,865.3L688.1,864.7L686.9,863.5L687.5,861.7L687.9,859.9L687.3,858.1L687.5,856"/>
<path d="M689,863.3L692,861.5"/>
<path d="M677.3,872.5L679.4,872.8L680,874.3L681.2,875.8L680.3,877L678.8,877.9L677,878.5L675.2,878.2L674,877L674.6,874.9L676.1,873.7Z"/>
<path d="M675.2,874.6L678.2,874.3"/>
<path d="M674.9,876.4L678.8,876.4"/>
<path d="M676.4,873.4L678.8,873.7L679.4,875.2"/>
<path d="M696.2,848.6L696.8,848.6L696.8,849.2L696.2,849.2Z"/>
<path d="M700.2,847.4L700.8,847.4L700.8,847.8L700.2,847.8Z"/>
<path d="M703.3,850L704,850.5L704.6,853L704.3,856L703.4,858.4L701.6,859.9L700.1,861.1L700.7,862.9L702.8,863.8L703.4,865.3L702.2,866.5L700.4,867.1L701,868.6L699.8,869.8L697.4,870.1L695,870.7L694.1,871.9L694.7,873.7L695.6,875.8L695.9,877.9L695.3,880L694.5,881.3"/>
<path d="M680.6,875.8L682.7,875.2L684.8,875.8L686.6,875.5L688.1,876.7L689.9,877.9L692,879.1L693.5,880.5"/>
<path d="M693.5,880.6L692,883L691.4,884.5L693.2,884.8L695,884.5L695.6,883L694.4,881.2Z"/>
<path d="M695,884.7L696.2,886.6L697.4,888.4L697.7,889.9"/>
<path d="M666.2,880.3L666.8,882.4L668,884.2L670.4,884.5L671.9,885.7L673.1,887.5L675.2,888.4L676.4,889.9"/>
<path d="M712.5,804.2L714.3,804.5L715.8,806L716.7,805.4L716.1,804.2L717.6,803.3L719.1,802.1L720.3,803L720.6,801.2L720.9,799.7L719.7,799.4L718.8,800.9L717.6,802.1L716.4,803L714.9,803L713.7,802.7L712.8,802.4"/>
<path d="M727.2,820.1L728.7,819.5L730.8,819.8L732.3,820.4L732.9,822.2L733.2,824L733.8,825.8L734.1,827.3L732.6,827.6L730.5,827L728.7,826.4L727.2,825.8L726.3,824L726.3,821.9Z"/>
<path d="M731.1,814.4L731.9,814.1L732.3,815.6L732,817.1L731.3,816.8Z"/>
<path d="M733.8,795.2L735,794.3L736.5,794.3L735.3,795.5Z"/>
<path d="M734.7,818L736.2,817.1L737.7,816.2L738.6,814.7L739.8,814.4L740.7,815.6L741,817.7L741.9,817.4L742.2,815L743.1,813.5L744.6,812.6L746.4,812.3L747.6,812.9L747.9,815L747.6,817.4L747.9,819.2L747,820.1L745.5,820.4L744.6,821.6L745.5,822.8L744.9,824.3L744,825.2L744.3,826.7L745.8,827.3L746.7,828.2L745.2,829.4L743.7,830.3L741.9,831.2L740.7,830.6L741.3,829.1L740.7,827L739.2,825.8L737.7,825.5L736.8,824L736.5,821.9L736.2,819.8L735.3,819.2Z"/>
<path d="M735.6,829.7L736.8,829.1L738.6,830L740.4,830.6L741.3,831.5L740.4,832.7L738.6,833.3L736.8,832.4L735.9,831.2Z"/>
<path d="M728.1,828.5L729.6,829.4L731.1,829.7L732.6,829.1L733.5,829.7L732.9,831.2L732,831.8L731.7,830.3L730.2,830.3L728.7,829.7Z"/>
<path d="M752.7,833L753.9,832.1L755.4,832.7L756.6,834.2L756.9,836.6L756,838.1L754.5,838.4L753,837.2L752.1,835.1Z"/>
<path d="M713.4,829.7L717,829.4L720,830L723,829.4L726,829.1"/>
<path d="M747.3,811.1L747.6,813.2L747,815L747.9,818.6"/>
<path d="M802.2,784.4L800.4,784.7L798.3,785.6L796.2,786.2L794.4,787.4L792.9,789.5L792.1,791.9L792.1,794.6L792.6,796.7L793.5,798.2L792.6,800L793.5,800.6L794.7,798.8L795.9,797L797.4,795.2L798.6,793.4L798.3,791.3L797.9,789.2L798.9,787.4L800.4,785.9L801.9,785Z"/>
<path d="M784.2,794L783,797L781.8,800.6L780.5,804.2L779.4,807.8L778.8,810.3L779.7,809.9L780.7,806.6L781.9,803L783,799.4L783.9,796.4L784.5,794.3Z"/></g>
</g>
<rect x="419.5" y="321.5" width="392.0" height="569.0" fill="none" stroke="#000" stroke-width="1"/>
<g class="t14"><text x="484.5" y="309.7" text-anchor="middle" letter-spacing="-0.3">20°W</text><text x="484.5" y="911.5" text-anchor="middle" letter-spacing="-0.3">20°W</text><text x="565.5" y="309.7" text-anchor="middle" letter-spacing="-0.3">10°W</text><text x="565.5" y="911.5" text-anchor="middle" letter-spacing="-0.3">10°W</text><text x="645.5" y="309.7" text-anchor="middle" letter-spacing="-0.3">0°</text><text x="645.5" y="911.5" text-anchor="middle" letter-spacing="-0.3">0°</text><text x="726.5" y="309.7" text-anchor="middle" letter-spacing="-0.3">10°E</text><text x="726.5" y="911.5" text-anchor="middle" letter-spacing="-0.3">10°E</text><text x="807.5" y="309.7" text-anchor="middle" letter-spacing="-0.3">20°E</text><text x="807.5" y="911.5" text-anchor="middle" letter-spacing="-0.3">20°E</text><text x="411.5" y="833.5" text-anchor="end" letter-spacing="-0.35">55°N</text><text x="818.5" y="833.5" letter-spacing="-0.35">55°N</text><text x="411.5" y="758.5" text-anchor="end" letter-spacing="-0.35">60°N</text><text x="818.5" y="758.5" letter-spacing="-0.35">60°N</text><text x="411.5" y="671.5" text-anchor="end" letter-spacing="-0.35">65°N</text><text x="818.5" y="671.5" letter-spacing="-0.35">65°N</text><text x="411.5" y="565.5" text-anchor="end" letter-spacing="-0.35">70°N</text><text x="818.5" y="565.5" letter-spacing="-0.35">70°N</text><text x="411.5" y="430.5" text-anchor="end" letter-spacing="-0.35">75°N</text><text x="818.5" y="430.5" letter-spacing="-0.35">75°N</text></g>
<text class="t10" x="60.2" y="974.9" letter-spacing="0.03">© Met Office Crown Copyright</text>
</svg>
</body></html>
